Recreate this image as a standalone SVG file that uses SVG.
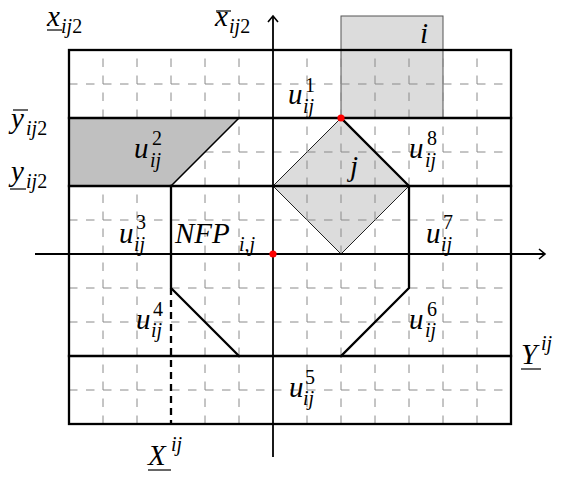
<svg xmlns="http://www.w3.org/2000/svg" width="564" height="477" viewBox="0 0 564 477">
<defs>
<style>
.grid{stroke:#8a8a8a;stroke-width:1;stroke-dasharray:8.5 8.5;fill:none}
.thick{stroke:#000;stroke-width:2.3;fill:none;stroke-linecap:square}
.thin{stroke:#222;stroke-width:1}
.axis{stroke:#000;stroke-width:1.8;fill:none}
.bar{stroke:#000;stroke-width:1.2}
.dot{fill:#ff0000}
</style>
<marker id="arr" markerWidth="12" markerHeight="12" refX="9" refY="6" orient="auto" markerUnits="userSpaceOnUse">
<path d="M3,1 L9,6 L3,11" fill="none" stroke="#000" stroke-width="1.6"/>
</marker>
</defs>
<rect width="564" height="477" fill="#fff"/>

<g id="item-i">
<rect x="341" y="16" width="102" height="102" fill="#dcdcdc" stroke="#555" stroke-width="1"/>
</g>
<g id="item-j">
<polygon points="341,118 409,186 341,254 273,186" fill="#dcdcdc" class="thin" stroke="#222"/>
</g>

<g id="grid">
<path class="grid" d="M103,424V50M137,424V50M171,288V50M205,424V50M239,424V50M307,424V50M341,424V50M375,424V50M409,424V50M443,424V50M477,424V50"/>
<path class="grid" d="M69,84H511M69,152H511M69,220H511M69,288H511M69,322H511M69,390H511"/>
</g>

<g id="region-u2">
<polygon points="69,118 239,118 171,186 69,186" fill="#c0c0c0"/>
</g>

<g id="frame">
<rect x="69" y="50" width="442" height="374" class="thick"/>
<path class="thick" d="M69,118H511M69,186H511M69,356H511"/>
</g>

<g id="nfp">
<path class="thick" d="M171,186V288L239,356M341,356L409,288V186L341,118" stroke-linejoin="round"/>
<path d="M171,288V424" stroke="#000" stroke-width="2.3" stroke-dasharray="7 5"/>
<path d="M239,118L171,186" stroke="#000" stroke-width="1.6"/>
</g>

<g id="connectors">
<line x1="35" y1="254" x2="545" y2="254" class="axis" marker-end="url(#arr)"/>
<line x1="273" y1="457" x2="273" y2="16" class="axis" marker-end="url(#arr)"/>
</g>

<g id="points">
<circle cx="273" cy="254" r="3.6" class="dot"/>
<circle cx="341" cy="118" r="3.6" class="dot"/>
</g>

<g id="labels" font-family="Liberation Serif, DejaVu Serif, serif" font-style="italic" fill="#000">
<g font-size="29">
<text x="47" y="26">x</text>
<text x="215" y="26">x</text>
<text x="11" y="128">y</text>
<text x="11" y="181">y</text>
<text x="420" y="43">i</text>
<text x="350" y="176">j</text>
<text x="288" y="104">u</text>
<text x="134" y="158">u</text>
<text x="119" y="243">u</text>
<text x="136" y="329">u</text>
<text x="289" y="397">u</text>
<text x="409" y="329">u</text>
<text x="426" y="243">u</text>
<text x="409" y="158">u</text>
<text x="175" y="243">NFP</text>
<text x="521" y="364">Y</text>
<text x="148" y="465">X</text>
</g>
<g font-size="20">
<text x="61" y="33">ij<tspan font-style="normal">2</tspan></text>
<text x="229" y="33">ij<tspan font-style="normal">2</tspan></text>
<text x="26" y="135">ij<tspan font-style="normal">2</tspan></text>
<text x="26" y="188">ij<tspan font-style="normal">2</tspan></text>
<text x="303" y="113">ij</text>
<text x="150" y="167">ij</text>
<text x="134" y="251">ij</text>
<text x="151" y="337">ij</text>
<text x="303" y="405">ij</text>
<text x="425" y="337">ij</text>
<text x="441" y="251">ij</text>
<text x="425" y="167">ij</text>
<text x="239" y="251">i,j</text>
<text x="541" y="350">ij</text>
<text x="171" y="451">ij</text>
</g>
<g font-size="20" font-style="normal">
<text x="305" y="92">1</text>
<text x="152" y="145">2</text>
<text x="136" y="229">3</text>
<text x="153" y="316">4</text>
<text x="305" y="384">5</text>
<text x="427" y="316">6</text>
<text x="443" y="229">7</text>
<text x="427" y="145">8</text>
</g>
<line class="bar" x1="47" y1="30" x2="62" y2="30"/>
<line class="bar" x1="216" y1="11" x2="231" y2="11"/>
<line class="bar" x1="13" y1="110" x2="28" y2="110"/>
<line class="bar" x1="10" y1="189" x2="26" y2="189"/>
<line class="bar" x1="521" y1="369" x2="541" y2="369"/>
<line class="bar" x1="148" y1="470" x2="171" y2="470"/>
</g>
</svg>
